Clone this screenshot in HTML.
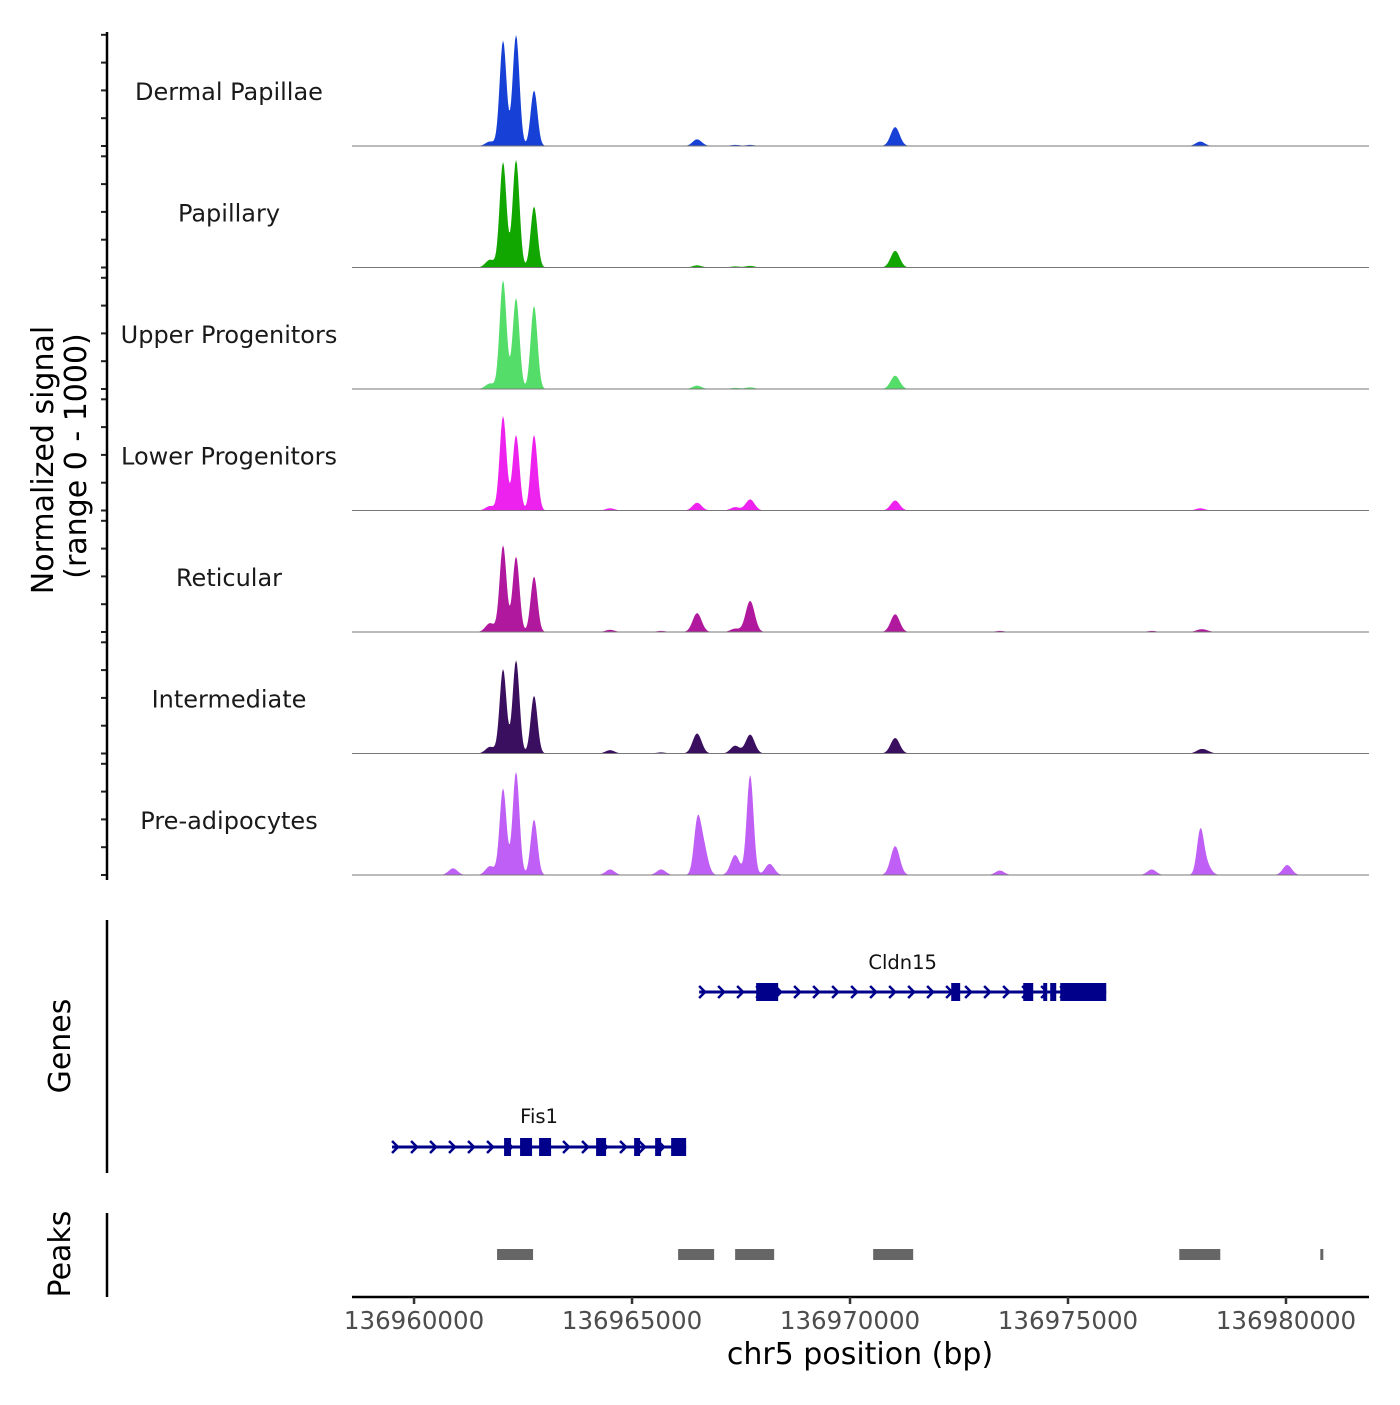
<!DOCTYPE html>
<html><head><meta charset="utf-8"><style>
body{margin:0;background:#fff}
svg text{font-family:"DejaVu Sans","Liberation Sans",sans-serif}
</style></head><body>
<svg id="c" width="1400" height="1400" viewBox="0 0 1400 1400" xmlns="http://www.w3.org/2000/svg">
<g id="tracks"></g>
<g id="genes"></g>
<g id="peaks"></g>
<g id="axes"></g>
</svg>
<script>
const trackNames = ["Dermal Papillae","Papillary","Upper Progenitors","Lower Progenitors","Reticular","Intermediate","Pre-adipocytes"];
const trackColors = ["#1640d6","#12a600","#55dd6a","#ee22ee","#b0189e","#3b0f5f","#bf5ff5"];
// peak positions (bp) and per-track heights (0-1000)
const peakPos = [136960895,136961744,136962042,136962340,136962753,136964497,136965667,136966493,136966624,136967365,136967709,136968157,136971036,136973436,136976921,136978034,136978169,136980030];
const peakHeights = [
 [0,40,950,1000,500,5,0,60,0,10,10,0,170,0,0,40,0,5],
 [0,70,950,970,550,5,0,20,0,10,15,0,150,0,0,0,0,0],
 [0,50,980,820,750,5,0,30,0,10,15,0,120,0,0,0,0,0],
 [0,40,850,680,680,20,0,70,0,30,100,0,90,0,0,20,0,0],
 [0,80,780,680,500,20,10,170,0,30,280,0,160,10,10,20,10,0],
 [0,60,760,840,520,30,10,180,0,70,170,0,140,0,0,30,20,0],
 [60,80,780,930,500,50,50,400,280,180,900,100,260,40,50,380,100,90]
];
const xTicks = [136960000,136965000,136970000,136975000,136980000];
const genes = [
 {name:"Cldn15", start:136966539, end:136975877, row:0, exons:[[136967847,136968352],[136972321,136972527],[136973973,136974202],[136974431,136974523],[136974592,136974730],[136974822,136975877]]},
 {name:"Fis1", start:136959495, end:136966241, row:1, exons:[[136962065,136962225],[136962432,136962707],[136962868,136963143],[136964176,136964405],[136965048,136965185],[136965530,136965667],[136965897,136966241]]}
];
const peakRegions = [[136961904,136962730],[136966057,136966883],[136967365,136968260],[136970531,136971449],[136977552,136978493],[136980787,136980856]];

const NS="http://www.w3.org/2000/svg";
const X0=352,X1=1369,D0=136958577,D1=136981904;
const xs=b=>X0+(b-D0)*(X1-X0)/(D1-D0);
function mk(t,a,p){const e=document.createElementNS(NS,t);for(const k in a)e.setAttribute(k,a[k]);p.appendChild(e);return e;}
const gT=document.getElementById('tracks'),gG=document.getElementById('genes'),gP=document.getElementById('peaks'),gA=document.getElementById('axes');
const base0=146,trackH=121.5,fullH=111;
trackNames.forEach((n,i)=>{
 const by=base0+i*trackH;
 let d=`M${X0},${by}`;
 for(let x=X0;x<=X1;x+=1){
  let v=0;
  peakPos.forEach((p,j)=>{const h=peakHeights[i][j];if(!h)return;const px=xs(p);const s=h>300?3.4:4.5;v+=h*Math.exp(-((x-px)**2)/(2*s*s));});
  d+=`L${x},${(by-Math.min(v,1000)/1000*fullH).toFixed(2)}`;
 }
 d+=`L${X1},${by}Z`;
 const p=mk('path',{d:d,fill:trackColors[i]},gT);
 
 
 const l=mk('line',{x1:X0,x2:X1,y1:by,y2:by,stroke:'#777','stroke-width':1},gT);
 
 
 const t=mk('text',{x:229,y:by-46,'text-anchor':'middle','font-size':24,fill:'#1a1a1a'},gT);
 t.textContent=n;
 
 
 for(let k=0;k<=4;k++){const ty=by-k*27.8;const tk=mk('line',{x1:101,x2:107,y1:ty,y2:ty,stroke:'#222','stroke-width':2},gA);
  
  }
});
// genes
const rowY=[992,1147],labY=[962,1116];
genes.forEach(g=>{
 const y=rowY[g.row],x1=xs(g.start),x2=xs(g.end);
 const ln=mk('line',{x1:x1,x2:x2,y1:y,y2:y,stroke:'#00008b','stroke-width':3},gG);
 
 
 for(let x=x1+4;x<x2-4;x+=19){const c=mk('path',{d:`M${x-4},${y-6}L${x+2},${y}L${x-4},${y+6}`,fill:'none',stroke:'#00008b','stroke-width':2.5},gG);
  
  }
 g.exons.forEach(e=>{const r=mk('rect',{x:xs(e[0]),y:y-9,width:Math.max(3,xs(e[1])-xs(e[0])),height:18,fill:'#00008b'},gG);
  
  });
 const t=mk('text',{x:(x1+x2)/2,y:labY[g.row]+7,'text-anchor':'middle','font-size':19.5,fill:'#111'},gG);
 t.textContent=g.name;
 
 
});
peakRegions.forEach(r=>{const e=mk('rect',{x:xs(r[0]),y:1249,width:Math.max(3,xs(r[1])-xs(r[0])),height:11,fill:'#666'},gP);
 
 });
// axes
[[32,880],[920,1173],[1213,1297]].forEach(a=>{const l=mk('line',{x1:107,x2:107,y1:a[0],y2:a[1],stroke:'#000','stroke-width':2.5},gA);
 
 });
const xl=mk('line',{x1:X0,x2:X1,y1:1297,y2:1297,stroke:'#000','stroke-width':2.5},gA);


xTicks.forEach(b=>{const x=xs(b);
 const tk=mk('line',{x1:x,x2:x,y1:1297,y2:1304,stroke:'#333','stroke-width':2.5},gA);
 
 
 const t=mk('text',{x:x,y:1329,'text-anchor':'middle','font-size':24.5,fill:'#4d4d4d'},gA);t.textContent=b;
 
 });
function txt(s,x,y,fs,rot,name){const t=mk('text',{x:x,y:y,'text-anchor':'middle','font-size':fs,fill:'#000',transform:rot?`rotate(-90 ${x} ${y})`:''},gA);t.textContent=s;
 
 }
txt("chr5 position (bp)",860,1364,30,false,'x-axis-title');
txt("Normalized signal",53,460,30,true,'y-axis-title');
txt("(range 0 - 1000)",86,456,30,true,'y-axis-subtitle');
txt("Genes",70,1046,30,true,'genes-axis-title');
txt("Peaks",70,1254,30,true,'peaks-axis-title');
</script>
</body></html>
